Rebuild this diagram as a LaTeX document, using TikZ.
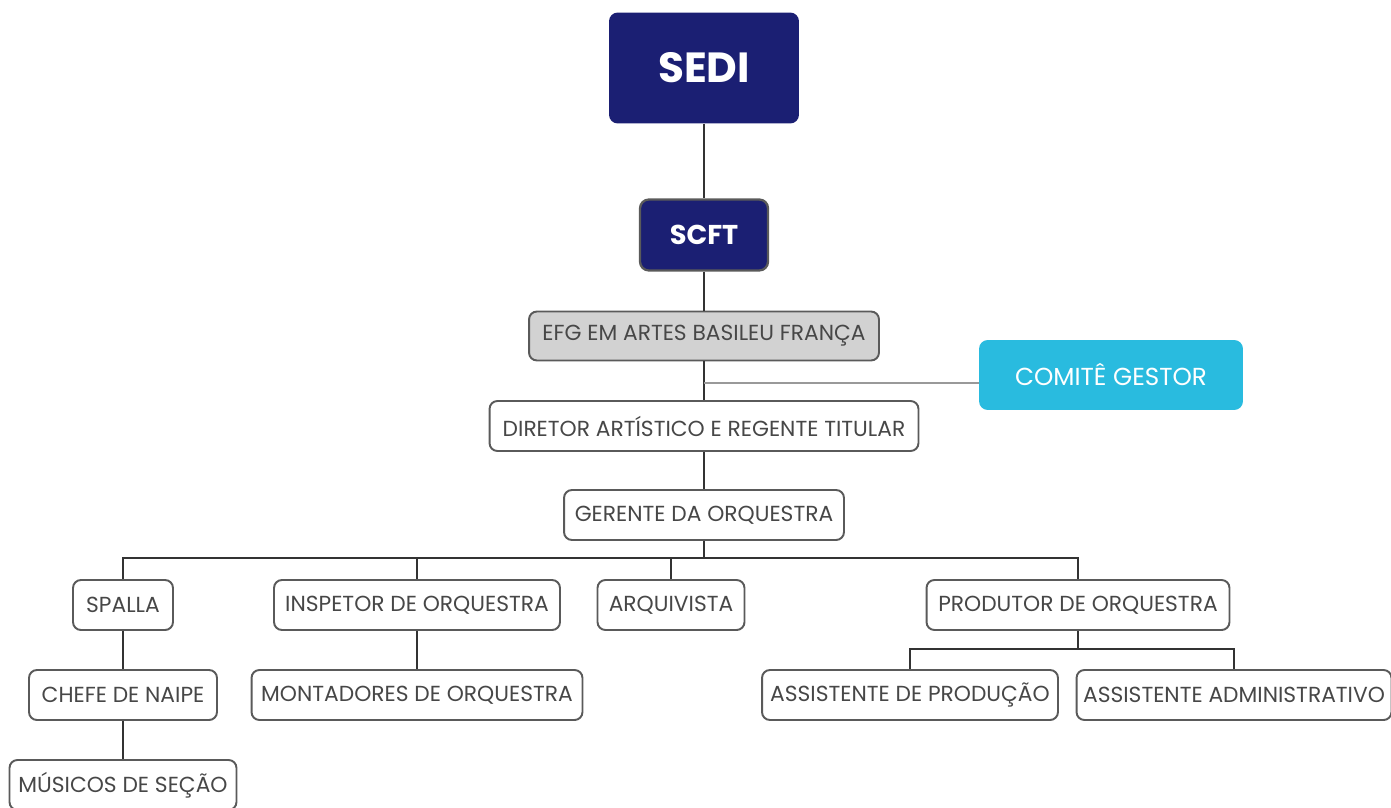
\documentclass[tikz,border=0pt]{standalone}
\usepackage{fontspec}
\setmainfont{Poppins}
\newfontfamily\boldfont{Poppins}
\definecolor{navy}{HTML}{1B1F73}
\definecolor{cyanb}{HTML}{29BBDF}
\definecolor{txt}{HTML}{474747}
\definecolor{bord}{HTML}{5A5A5A}
\definecolor{efgfill}{HTML}{D2D2D2}
\definecolor{wire}{HTML}{333333}
\begin{document}
\begin{tikzpicture}[x=0.02cm,y=-0.02cm,
  box/.style={draw=bord, line width=1.1pt, rounded corners=4.5pt, fill=white,
     text=txt, font=\fontsize{12.4}{14}\selectfont, minimum height=1cm, inner sep=0pt},
  topbox/.style={fill=navy, rounded corners=5pt, text=white, inner sep=0pt},
  wirel/.style={draw=wire, line width=1.4pt},
  thin/.style={draw=gray!80, line width=0.6pt}]
\useasboundingbox (0,0) rectangle (1391,807);
\node[topbox, minimum width=3.8cm, minimum height=2.22cm, font=\boldfont\bfseries\fontsize{24}{28}\selectfont] (sedi) at (704,68) {SEDI};
\node[topbox, draw=bord, line width=1.3pt, minimum width=2.56cm, minimum height=1.42cm, font=\boldfont\bfseries\fontsize{15.5}{18}\selectfont] (scft) at (704,235) {SCFT};
\node[box, fill=efgfill, minimum width=7cm, minimum height=0.98cm] (efg) at (704,336) {EFG EM ARTES BASILEU FRANÇA};
\node[fill=cyanb, rounded corners=5pt, text=white, minimum width=5.28cm, minimum height=1.4cm, inner sep=0pt, font=\fontsize{14}{16}\selectfont] (comite) at (1111,375) {COMITÊ GESTOR};
\node[box, minimum width=8.58cm] (dir) at (704,426) {DIRETOR ARTÍSTICO E REGENTE TITULAR};
\node[box, minimum width=5.6cm] (ger) at (704,515) {GERENTE DA ORQUESTRA};
\node[box, minimum width=2cm] (spalla) at (123,605) {SPALLA};
\node[box, minimum width=5.72cm] (insp) at (417,605) {INSPETOR DE ORQUESTRA};
\node[box, minimum width=2.94cm] (arq) at (671,605) {ARQUIVISTA};
\node[box, minimum width=6.06cm] (prod) at (1078,605) {PRODUTOR DE ORQUESTRA};
\node[box, minimum width=3.76cm] (chefe) at (123,695) {CHEFE DE NAIPE};
\node[box, minimum width=6.62cm] (mont) at (417,695) {MONTADORES DE ORQUESTRA};
\node[box, minimum width=5.92cm] (aprod) at (910,695) {ASSISTENTE DE PRODUÇÃO};
\node[box, minimum width=6.3cm] (aadm) at (1234,695) {ASSISTENTE ADMINISTRATIVO};
\node[box, minimum width=4.54cm] (mus) at (123,785) {MÚSICOS DE SEÇÃO};
% connectors
\draw[wirel] (sedi) -- (scft);
\draw[wirel] (scft.south) -- (efg.north);
\draw[wirel] (efg.south) -- (dir.north);
\coordinate (cj) at (704,383);
\draw[thin] (cj) -- (cj -| comite.west);
\draw[wirel] (dir) -- (ger);
\coordinate (bus) at (704,558);
\draw[wirel] (ger.south) -- (bus);
\draw[wirel] (bus) -| (spalla.north);
\draw[wirel] (bus) -| (insp.north);
\draw[wirel] (bus) -| (arq.north);
\draw[wirel] (bus) -| (prod.north);
\draw[wirel] (spalla) -- (chefe);
\draw[wirel] (chefe) -- (mus);
\draw[wirel] (insp) -- (mont);
\coordinate (bus2) at (1078,649);
\draw[wirel] (prod.south) -- (bus2);
\draw[wirel] (bus2) -| (aprod.north);
\draw[wirel] (bus2) -| (aadm.north);
\end{tikzpicture}
\end{document}
